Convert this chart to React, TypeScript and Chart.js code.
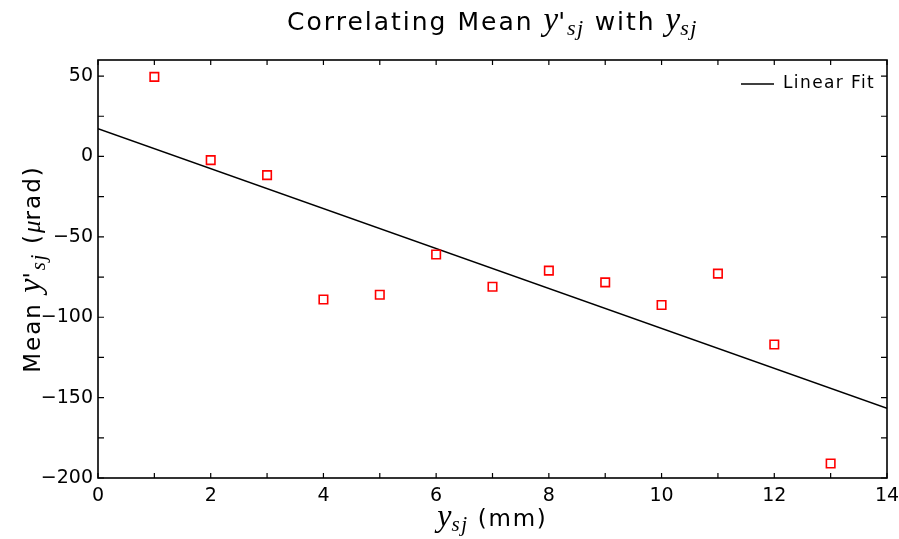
import React, { useEffect, useRef } from "react";
import { Chart, registerables } from "chart.js";

Chart.register(...registerables);

const xValues = [1, 2, 3, 4, 5, 6, 7, 8, 9, 10, 11, 12, 13];
const yValues = [49.5, -2.3, -11.6, -89, -86, -61, -81, -71, -78.3, -92.4, -72.9, -117, -191];
const fitX = [0, 14];
const fitY = [17.2, -156.6];
const xTickValues = [0, 2, 4, 6, 8, 10, 12, 14];
const yTickValues = [-200, -150, -100, -50, 0, 50];
const xMinorStep = 1;
const yMinorStep = 25;
const legendLabel = "Linear Fit";

const SANS = '"DejaVu Sans", sans-serif';
const MATH = '"Liberation Serif", serif';

type Seg = { t: string; font: string; dy?: number; ls?: number };

function drawRich(ctx: CanvasRenderingContext2D, segs: Seg[], cx: number, cy: number, rotate: boolean) {
  ctx.save();
  ctx.translate(cx, cy);
  if (rotate) ctx.rotate(-Math.PI / 2);
  const c: any = ctx;
  let total = 0;
  const widths: number[] = [];
  for (const s of segs) {
    ctx.font = s.font;
    c.letterSpacing = (s.ls || 0) + "px";
    const w = ctx.measureText(s.t).width;
    widths.push(w);
    total += w;
  }
  let x = -total / 2;
  ctx.textAlign = "left";
  ctx.textBaseline = "alphabetic";
  ctx.fillStyle = "#000";
  segs.forEach((s, i) => {
    ctx.font = s.font;
    c.letterSpacing = (s.ls || 0) + "px";
    ctx.fillText(s.t, x, s.dy || 0);
    x += widths[i];
  });
  c.letterSpacing = "0px";
  ctx.restore();
}

const decorPlugin = {
  id: "decor",
  afterDraw(chart: any) {
    const ctx: CanvasRenderingContext2D = chart.ctx;
    const a = chart.chartArea;
    const xs = chart.scales.x;
    const ys = chart.scales.y;
    ctx.save();
    ctx.strokeStyle = "#000";
    ctx.lineWidth = 1.6;
    ctx.strokeRect(a.left, a.top, a.right - a.left, a.bottom - a.top);
    ctx.lineWidth = 1.2;
    ctx.beginPath();
    for (let v = xs.min; v <= xs.max + 1e-9; v += xMinorStep) {
      const px = xs.getPixelForValue(v);
      ctx.moveTo(px, a.bottom);
      ctx.lineTo(px, a.bottom - 5);
      ctx.moveTo(px, a.top);
      ctx.lineTo(px, a.top + 5);
    }
    for (let v = ys.min; v <= ys.max + 1e-9; v += yMinorStep) {
      const py = ys.getPixelForValue(v);
      ctx.moveTo(a.left, py);
      ctx.lineTo(a.left + 6, py);
      ctx.moveTo(a.right, py);
      ctx.lineTo(a.right - 6, py);
    }
    ctx.stroke();
    // legend
    ctx.lineWidth = 1.5;
    ctx.beginPath();
    ctx.moveTo(741, 84);
    ctx.lineTo(774, 84);
    ctx.stroke();
    const c: any = ctx;
    c.letterSpacing = "1.4px";
    ctx.font = `17px ${SANS}`;
    ctx.fillStyle = "#000";
    ctx.textAlign = "left";
    ctx.textBaseline = "middle";
    ctx.fillText(legendLabel, 783, 84);
    c.letterSpacing = "0px";
    ctx.restore();

    const cx = (a.left + a.right) / 2;
    const cy = (a.top + a.bottom) / 2;
    drawRich(
      ctx,
      [
        { t: "Correlating Mean ", font: `25px ${SANS}`, ls: 2 },
        { t: "y", font: `italic 33px ${MATH}` },
        { t: "'", font: `25px ${SANS}`, ls: 2 },
        { t: "sj", font: `italic 22px ${MATH}`, dy: 5, ls: 1.5 },
        { t: " with ", font: `25px ${SANS}`, ls: 2 },
        { t: "y", font: `italic 33px ${MATH}` },
        { t: "sj", font: `italic 22px ${MATH}`, dy: 5, ls: 1.5 },
      ],
      cx,
      30,
      false
    );
    drawRich(
      ctx,
      [
        { t: "y", font: `italic 32px ${MATH}` },
        { t: "sj", font: `italic 21px ${MATH}`, dy: 5, ls: 1.5 },
        { t: " (mm)", font: `23px ${SANS}`, ls: 1.8 },
      ],
      cx,
      526,
      false
    );
    drawRich(
      ctx,
      [
        { t: "Mean ", font: `23px ${SANS}`, ls: 2 },
        { t: "y", font: `italic 32px ${MATH}` },
        { t: "'", font: `23px ${SANS}`, ls: 2 },
        { t: "sj", font: `italic 21px ${MATH}`, dy: 5, ls: 1.5 },
        { t: " (", font: `23px ${SANS}`, ls: 2 },
        { t: "\u03BC", font: `italic 25px ${MATH}` },
        { t: "rad)", font: `23px ${SANS}`, ls: 2 },
      ],
      40,
      cy,
      true
    );
  },
};

function fmt(v: number) {
  return v < 0 ? "\u2212" + Math.abs(v) : String(v);
}

export default function App() {
  const ref = useRef<HTMLCanvasElement | null>(null);
  useEffect(() => {
    if (!ref.current) return;
    const chart = new Chart(ref.current, {
      type: "scatter",
      data: {
        datasets: [
          {
            type: "scatter",
            label: "Data",
            data: xValues.map((x, i) => ({ x, y: yValues[i] })),
            pointStyle: "rect",
            pointRadius: 6,
            pointBorderWidth: 1.6,
            borderColor: "#ff0000",
            backgroundColor: "rgba(255,255,255,0)",
          },
          {
            type: "line",
            label: legendLabel,
            data: fitX.map((x, i) => ({ x, y: fitY[i] })),
            borderColor: "#000",
            borderWidth: 1.5,
            pointRadius: 0,
            fill: false,
          },
        ],
      } as any,
      options: {
        responsive: false,
        animation: false,
        layout: { padding: { top: 60, right: 12, left: 0, bottom: 0 } },
        plugins: {
          legend: { display: false },
          title: { display: false },
          tooltip: { enabled: false },
        },
        scales: {
          x: {
            type: "linear",
            min: 0,
            max: 14,
            grid: { display: false, drawTicks: false },
            border: { display: false },
            afterBuildTicks: (s: any) => {
              s.ticks = xTickValues.map((v) => ({ value: v }));
            },
            afterFit: (s: any) => {
              s.height = 61;
              s.paddingLeft = 0;
              s.paddingRight = 0;
            },
            ticks: {
              color: "#000",
              padding: 7,
              maxRotation: 0,
              autoSkip: false,
              font: { family: SANS, size: 19 },
              callback: (v: any) => fmt(Number(v)),
            },
          },
          y: {
            type: "linear",
            min: -200,
            max: 60,
            grid: { display: false, drawTicks: false },
            border: { display: false },
            afterBuildTicks: (s: any) => {
              s.ticks = yTickValues.map((v) => ({ value: v }));
            },
            afterFit: (s: any) => {
              s.width = 98;
              s.paddingTop = 0;
              s.paddingBottom = 0;
            },
            ticks: {
              color: "#000",
              padding: 5,
              autoSkip: false,
              font: { family: SANS, size: 19 },
              callback: (v: any) => fmt(Number(v)),
            },
          },
        },
      } as any,
      plugins: [decorPlugin],
    });
    return () => chart.destroy();
  }, []);
  return (
    <div style={{ position: "absolute", left: 0, top: 0, width: 899, height: 539, background: "#fff" }}>
      <canvas ref={ref} width={899} height={539} style={{ display: "block" }} />
    </div>
  );
}
